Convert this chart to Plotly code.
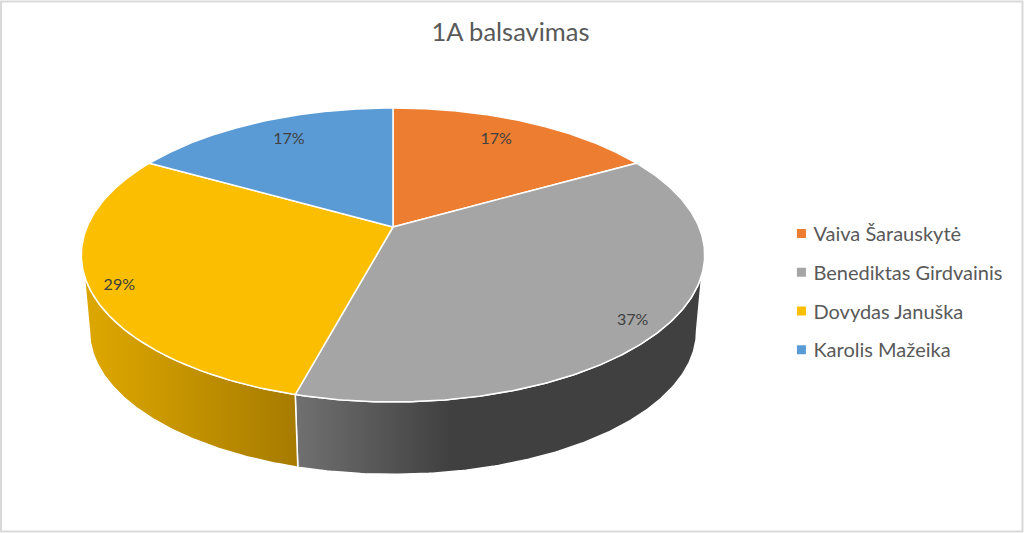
import numpy as np
import plotly.graph_objects as go

CATEGORIES = ["Vaiva Šarauskytė", "Benediktas Girdvainis", "Dovydas Januška", "Karolis Mažeika"]
VALUES = [16.8, 37.4, 29.0, 16.8]
COLORS = ["#ED7D31", "#A5A5A5", "#FCBE00", "#5B9BD5"]
TITLE = "1A balsavimas"

# perspective projection of a flat disc (pixel-sized axes)
CX, CY, TOP_A, TOP_H, PERSP = 393, 227, 306, 141.7, 0.19
BOT_CY, BOT_A, BOT_H = 304, 298, 138
SIDE_START = 108.5
SIDE_END_BOT = 259
LABEL_R = 0.818
LABEL_DX = [-8, 21, -28, 7]
LABEL_DY = [1, 15, 11, 1]
SIDE_FILL = {1: ((297, 450), [[0, "#707070"], [1, "#404040"]]),
             2: ((95, 297), [[0, "#DCA600"], [1, "#A67B00"]])}


def top_xy(theta, r=1.0):
    t = np.radians(theta)
    d = 1 + PERSP * r * np.cos(t)
    return CX + TOP_A * r * np.sin(t) / d, CY - TOP_H * r * np.cos(t) / d


def bot_xy(theta):
    t = np.radians(theta)
    d = 1 + PERSP * np.cos(t)
    return CX + BOT_A * np.sin(t) / d, BOT_CY - BOT_H * np.cos(t) / d


fracs = np.array(VALUES, dtype=float) / sum(VALUES)
edges = np.concatenate([[0], np.cumsum(fracs)]) * 360

fig = go.Figure()

# sides
for i in (1, 2):
    a0, a1 = edges[i], edges[i + 1]
    ta0, ta1 = max(a0, SIDE_START), min(a1, 360 - SIDE_START)
    ba0, ba1 = max(a0, 101), min(a1, SIDE_END_BOT)
    tt = np.linspace(ta0, ta1, 160)
    bt = np.linspace(ba0, ba1, 160)[::-1]
    xt, yt = top_xy(tt)
    xb, yb = bot_xy(bt)
    (g0, g1), scale = SIDE_FILL[i]
    fig.add_trace(go.Scatter(
        x=np.concatenate([xt, xb, xt[:1]]), y=np.concatenate([yt, yb, yt[:1]]),
        mode="lines", fill="toself", line=dict(color="white", width=1.5),
        fillgradient=dict(type="horizontal", colorscale=scale, start=g0, stop=g1),
        hoverinfo="skip", showlegend=False))

# top wedges
for i, c in enumerate(COLORS):
    t = np.linspace(edges[i], edges[i + 1], 200)
    x, y = top_xy(t)
    fig.add_trace(go.Scatter(
        x=np.concatenate([[CX], x, [CX]]), y=np.concatenate([[CY], y, [CY]]),
        mode="lines", fill="toself", fillcolor=c, line=dict(color="white", width=1.5),
        name=CATEGORIES[i], hoverinfo="name", showlegend=False))

# labels
mids = (edges[:-1] + edges[1:]) / 2
lx, ly = top_xy(mids, LABEL_R)
fig.add_trace(go.Scatter(
    x=lx + np.array(LABEL_DX), y=ly + np.array(LABEL_DY), mode="text",
    text=[f"{round(v)}%" for v in VALUES], textposition="middle center",
    textfont=dict(family="Lato", size=16, color="#404040"),
    hoverinfo="skip", showlegend=False))

# legend entries
for i, c in enumerate(COLORS):
    fig.add_trace(go.Scatter(
        x=[None], y=[None], mode="markers", name=CATEGORIES[i], legendgroup=CATEGORIES[i],
        marker=dict(symbol="square", size=9, color=c)))

fig.update_layout(
    width=1024, height=533, margin=dict(l=0, r=0, t=0, b=0),
    paper_bgcolor="white", plot_bgcolor="white",
    xaxis=dict(range=[0, 1024], visible=False, fixedrange=True),
    yaxis=dict(range=[533, 0], visible=False, fixedrange=True),
    title=dict(text=TITLE, x=0.4985, xanchor="center", y=0.94, yanchor="middle",
               font=dict(family="Lato", size=25.5, color="#595959")),
    legend=dict(x=0.7553, xanchor="left", y=0.452, yanchor="middle", tracegroupgap=9.7,
                bgcolor="rgba(0,0,0,0)", itemwidth=30,
                font=dict(family="Lato", size=20, color="#595959")),
    shapes=[dict(type="rect", xref="paper", yref="paper", x0=0.001, x1=0.9985, y0=0.003, y1=0.997,
                 line=dict(color="#D9D9D9", width=2), fillcolor="rgba(0,0,0,0)", layer="below")],
)
fig.write_html("out.html", config={"displayModeBar": False},
               post_script="document.body.style.margin='0';"
                           "document.querySelectorAll('.legendsymbols').forEach(function(e){"
                           "e.setAttribute('transform','translate(8,0)');});")
